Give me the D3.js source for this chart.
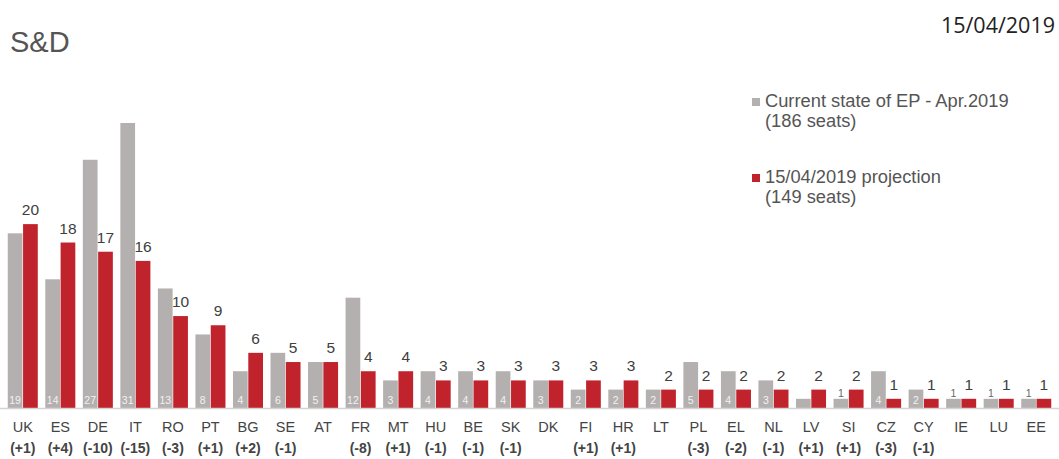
<!DOCTYPE html>
<html>
<head>
<meta charset="utf-8">
<script src="https://cdn.jsdelivr.net/npm/d3@7"></script>
<style>
  html, body { margin: 0; padding: 0; background: #fff; }
  svg { display: block; }
</style>
</head>
<body>
<svg id="chart" width="1059" height="459"></svg>
<script>
const countries = ["UK","ES","DE","IT","RO","PT","BG","SE","AT","FR","MT","HU","BE","SK","DK","FI","HR","LT","PL","EL","NL","LV","SI","CZ","CY","IE","LU","EE"];
const current    = [19,14,27,31,13,8,4,6,5,12,3,4,4,4,3,2,2,2,5,4,3,1,1,4,2,1,1,1];
const projection = [20,18,17,16,10,9,6,5,5,4,4,3,3,3,3,3,3,2,2,2,2,2,2,1,1,1,1,1];
const changes = ["(+1)","(+4)","(-10)","(-15)","(-3)","(+1)","(+2)","(-1)","","(-8)","(+1)","(-1)","(-1)","(-1)","","(+1)","(+1)","","(-3)","(-2)","(-1)","(+1)","(+1)","(-3)","(-1)","","",""];
const currentLabels = ["19","14","27","31","13","8","4","6","5","12","3","4","4","4","3","2","2","2","5","4","3","","1","4","2","1","1","1"];
const seriesKeys = ["current","projection"];
const seriesNames = [["Current state of EP - Apr.2019","(186 seats)"],["15/04/2019 projection","(149 seats)"]];
const colors = ["#b4b0af","#c1232c"];

const svg = d3.select("#chart");
const font = "'Liberation Sans', Arial, Helvetica, sans-serif";

const x = d3.scaleBand().domain(countries).range([4, 1055]).paddingInner(0.2).paddingOuter(0.1);
const xs = d3.scaleBand().domain(seriesKeys).range([0, x.bandwidth()]).paddingInner(0.04);
const y = d3.scaleLinear().domain([0, 31]).range([408, 123]);

const rows = countries.map((c, i) => ({c, cur: current[i], proj: projection[i], ch: changes[i], cl: currentLabels[i]}));

// title & date
svg.append("text").attr("x", 10).attr("y", 52).attr("font-family", font).attr("font-size", 29)
  .attr("fill", "#555").text("S&D");
svg.append("text").attr("x", 1055).attr("y", 33).attr("text-anchor", "end")
  .attr("font-family", "'Open Sans', 'Noto Sans', sans-serif").attr("font-size", 21.5)
  .attr("fill", "#222").text("15/04/2019");

// bars
const g = svg.append("g");
const grp = g.selectAll("g.c").data(rows).join("g").attr("class", "c")
  .attr("transform", d => `translate(${x(d.c)},0)`);

grp.append("rect").attr("x", xs("current")).attr("width", xs.bandwidth())
  .attr("y", d => y(d.cur)).attr("height", d => y(0) - y(d.cur)).attr("fill", colors[0]);
grp.append("rect").attr("x", xs("projection")).attr("width", xs.bandwidth())
  .attr("y", d => y(d.proj)).attr("height", d => y(0) - y(d.proj)).attr("fill", colors[1]);

// labels on gray bars
grp.append("text")
  .attr("x", xs("current") + xs.bandwidth() / 2)
  .attr("y", d => (y(0) - y(d.cur)) > 14 ? y(0) - 4 : y(d.cur) - 2)
  .attr("text-anchor", "middle").attr("font-family", font).attr("font-size", 10.5)
  .attr("fill", d => (y(0) - y(d.cur)) > 14 ? "#f2f2f2" : "#666")
  .text(d => d.cl);

// value labels above red bars
grp.append("text")
  .attr("x", xs("projection") + xs.bandwidth() / 2)
  .attr("y", d => y(d.proj) - 9)
  .attr("text-anchor", "middle").attr("font-family", font).attr("font-size", 15.5)
  .attr("fill", "#404040").text(d => d.proj);

// axis
const axis = svg.append("g").attr("transform", `translate(0,${y(0)})`)
  .call(d3.axisBottom(x).tickSize(0).tickFormat(""));
axis.select(".domain").attr("stroke", "#d4d4d4").attr("stroke-width", 1.5).attr("d", "M0,0.5H1059");
axis.selectAll(".tick text").remove();
axis.selectAll(".tick").each(function(d, i) {
  const t = d3.select(this);
  t.append("text").attr("y", 24).attr("text-anchor", "middle").attr("font-family", font)
    .attr("font-size", 14.5).attr("fill", "#444").text(d);
  t.append("text").attr("y", 45).attr("text-anchor", "middle").attr("font-family", font)
    .attr("font-size", 14).attr("font-weight", "bold").attr("fill", "#444").text(changes[i]);
});

// legend
const legY = [107, 183];
seriesNames.forEach((lines, i) => {
  svg.append("rect").attr("x", 752).attr("y", legY[i] - 9).attr("width", 8).attr("height", 8).attr("fill", colors[i]);
  lines.forEach((ln, j) => {
    svg.append("text").attr("x", 765).attr("y", legY[i] + j * 19.5).attr("font-family", font)
      .attr("font-size", 18.3).attr("fill", "#555").text(ln);
  });
});
</script>
</body>
</html>
